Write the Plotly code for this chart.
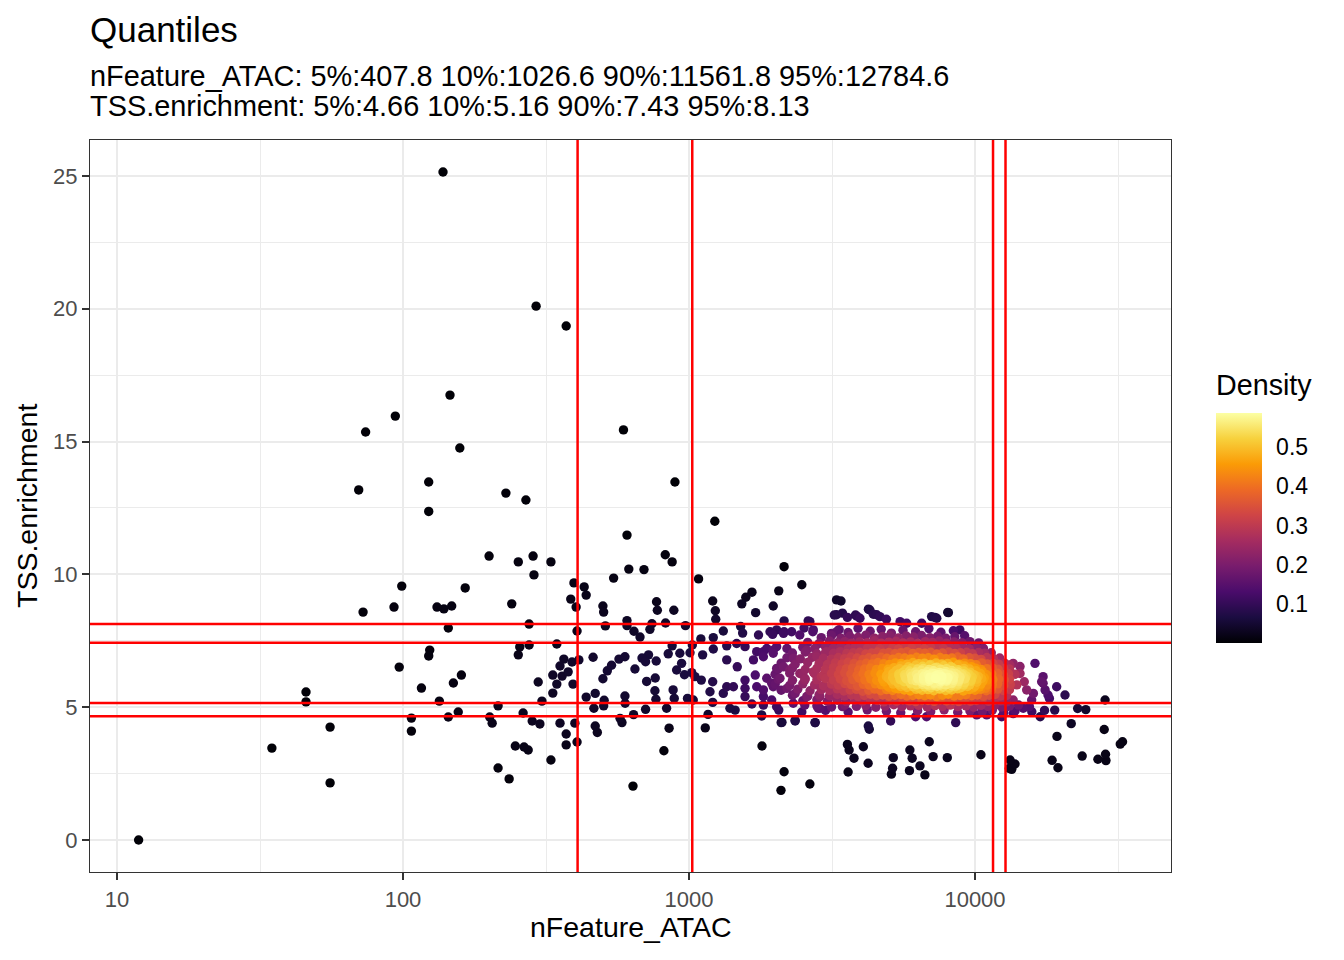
import numpy as np
import plotly.graph_objects as go

# ---------------- data ----------------
q_labels = ["5%", "10%", "90%", "95%"]
nfeature_q = [407.8, 1026.6, 11561.8, 12784.6]
tss_q = [4.66, 5.16, 7.43, 8.13]

x_tickvals = [10, 100, 1000, 10000]
x_ticktext = ["10", "100", "1000", "10000"]
y_tickvals = [0, 5, 10, 15, 20, 25]
density_ticks = [0.1, 0.2, 0.3, 0.4, 0.5]
density_max = 0.587

# low-count cells (left part)
nfeature_low = [138, 292, 372, 146, 94, 74, 158, 590, 70, 123, 123, 229, 269, 893, 1231,
                200, 253, 285, 329, 287, 99, 165, 72.5, 93, 131.5, 139, 148, 240, 144, 276,
                124, 123, 97, 256, 276, 253, 345, 396, 430, 437, 386, 403, 406, 365, 354,
                334, 360, 378, 390, 412, 345, 297, 393, 334, 306, 437, 160, 150, 116, 134,
                215, 263, 201, 205, 156, 144, 107, 107, 45.8, 45.8, 55.6, 34.8, 55.6, 11.9,
                283, 301, 354, 372, 399, 372, 406, 247, 265, 274, 329, 215, 235]
tss_low = [25.15, 20.1, 19.35, 16.75, 15.96, 15.36, 14.76, 15.44, 13.18, 13.48, 12.37, 13.06, 12.8, 13.48, 12.0,
           10.69, 10.47, 10.69, 10.47, 9.98, 9.56, 9.49, 8.58, 8.77, 8.77, 8.70, 8.81, 8.89, 7.98, 8.13,
           7.15, 6.93, 6.51, 7.27, 7.34, 6.97, 7.38, 9.68, 9.53, 9.22, 9.07, 8.77, 7.87, 6.81, 6.55,
           6.21, 6.17, 6.33, 6.70, 6.78, 5.87, 5.95, 5.87, 5.53, 5.23, 5.38, 6.21, 5.91, 5.72, 5.23,
           5.05, 4.78, 4.63, 4.40, 4.82, 4.63, 4.59, 4.10, 5.57, 5.20, 4.25, 3.46, 2.15, 0.0,
           4.48, 4.37, 4.40, 3.99, 4.40, 3.58, 3.69, 3.54, 3.50, 3.39, 3.01, 2.71, 2.30]

# middle cells (about 450 - 3300 features)
nfeature_mid = [607, 826, 873, 616, 696, 545, 1080, 2150, 2480, 2060, 1660, 1580, 1530, 1970, 1710,
                1210, 1236, 1240, 500, 503, 770, 775, 885, 3280, 3280,
                510, 607, 607, 642, 674, 730, 742, 828, 972, 1100, 1216, 1318, 1516, 1540, 1750,
                1960, 2150, 2150, 2610, 2525, 2710, 3280,
                462, 569, 597, 685, 722, 768, 846, 873, 929, 1008, 1027, 1116, 1216, 1355, 1468,
                1570, 1725, 1870, 2025,
                518, 500, 536, 647, 711, 762, 705, 905, 942, 964, 1049, 1104, 1022, 1210, 1355,
                1475, 1570, 1680, 1705, 1820, 1970, 1946, 2140,
                597, 598, 760, 766, 835, 880, 888, 988, 1035, 1184, 1210, 1318, 1430, 1390, 1450,
                1570, 1660, 1820, 1795, 1946, 2060, 2315, 2480, 2870,
                640, 705, 852, 1166, 1140, 574, 583, 470, 478, 465, 505, 503, 470, 817, 637,
                1800, 2150, 2097, 2646, 2114, 2350, 2760, 1355, 1570, 1725, 1870]
tss_mid = [11.48, 10.74, 10.47, 10.20, 10.18, 9.86, 9.83, 10.29, 9.61, 9.38, 9.33, 9.14, 8.89, 8.81, 8.56,
           9.0, 8.63, 8.31, 8.81, 8.58, 8.97, 8.65, 8.65, 9.04, 8.48,
           8.06, 8.26, 8.07, 7.86, 7.64, 7.93, 8.14, 8.17, 8.07, 7.57, 7.62, 7.87, 8.04, 7.79, 7.72,
           7.74, 8.25, 7.84, 8.25, 7.98, 7.84, 7.84,
           6.88, 6.81, 6.90, 6.85, 6.97, 6.74, 7.01, 7.31, 7.03, 7.05, 7.34, 6.97, 7.19, 7.31, 7.40,
           7.28, 7.09, 7.21, 7.28,
           6.37, 6.07, 6.58, 6.44, 5.97, 6.10, 6.71, 6.40, 6.65, 6.22, 6.15, 6.02, 6.30, 5.96, 6.78,
           6.52, 6.02, 6.78, 6.21, 6.90, 7.03, 5.90, 6.52,
           5.42, 5.15, 5.62, 5.30, 4.96, 5.65, 5.33, 5.33, 5.27, 5.58, 5.18, 5.52, 5.77, 4.96, 4.89,
           5.40, 5.12, 5.40, 4.67, 5.27, 4.89, 5.15, 4.82, 4.96,
           4.72, 4.92, 4.21, 4.73, 4.22, 4.58, 4.42, 4.29, 4.05, 4.96, 5.26, 5.05, 5.52, 3.36, 2.03,
           3.54, 2.57, 1.87, 2.11, 4.43, 4.51, 4.42, 5.77, 5.71, 5.77, 6.09]

# cells around the main population: below, above, left fringe and right tail
nfeature_edge = [3580, 3630, 3775, 4070, 4235, 4270, 4230, 3600, 5070, 5180, 5150, 5100, 5920, 6030, 5900,
                 6420, 6680, 6920, 7140, 8000, 6200, 6770, 8560,
                 10490, 13260, 13800, 13440, 13180, 18600, 19500, 23700, 26900, 28600, 28700, 32200, 32800,
                 16900, 19350, 21700, 28300, 28500, 19000, 22850, 24400,
                 3440, 3580, 3860, 4290, 4530, 4900, 5470, 7050, 7350, 8070, 2646,
                 3400, 3220, 3820, 3960, 4240, 4410, 4650, 5770, 6510, 7240, 8030, 8850,
                 1920, 2025, 2140, 2285, 2440, 2720, 3150,
                 1820, 1970, 2200, 2315, 2580, 2795, 3030,
                 2025, 2080, 2250, 2440, 2540, 2720, 2900,
                 1820, 1970, 2200, 2350, 2580, 2870, 3280,
                 1820, 2025, 2540, 2830, 3440, 1795, 2100, 2350, 2760,
                 13600, 14370, 16210, 17300, 17300, 19300, 20640, 15160, 16000, 18000,
                 17100, 17580, 18200, 14870, 13240, 14370,
                 14750, 13600, 15780, 12900, 10140, 10990, 12400]
tss_edge = [3.60, 3.39, 3.08, 3.51, 4.29, 4.17, 2.89, 2.56, 4.48, 3.10, 2.70, 2.48, 3.39, 3.08, 2.61,
            2.79, 2.45, 3.70, 3.14, 3.10, 4.64, 4.64, 4.42,
            3.21, 3.01, 2.86, 2.66, 2.69, 3.0, 2.72, 3.16, 3.04, 3.23, 2.99, 3.61, 3.70,
            4.64, 3.90, 4.38, 4.16, 5.27, 4.89, 4.95, 4.91,
            8.54, 8.38, 8.43, 8.66, 8.48, 8.31, 8.22, 8.41, 8.35, 8.56, 8.22,
            9.0, 8.47, 8.47, 8.35, 8.69, 8.50, 8.41, 8.16, 8.16, 8.38, 8.57, 7.91,
            7.84, 7.91, 7.78, 7.84, 7.72, 7.91, 7.78,
            7.09, 7.15, 7.21, 6.84, 7.15, 6.90, 7.09,
            6.46, 6.09, 6.40, 6.27, 6.02, 6.33, 6.15,
            5.65, 5.77, 5.71, 5.52, 5.40, 5.40, 5.33,
            5.08, 5.02, 5.08, 4.96, 5.02, 4.71, 4.42, 4.48, 4.42,
            6.65, 6.53, 6.65, 6.15, 5.90, 5.77, 5.46, 5.65, 5.52, 5.46,
            5.96, 5.65, 5.33, 5.96, 6.59, 6.27,
            4.96, 4.76, 5.27, 5.02, 4.71, 4.71, 4.64]

# main population (estimated, the dots overlap into a solid blob)
nfeature_main = [
    3350, 3600, 3900, 4300, 4700, 5100, 5600, 6200, 6900, 7600, 8400,
    2900, 3150, 3400, 3650, 3900, 4150, 4450, 4750, 5050, 5400, 5750, 6100, 6500, 6950, 7400, 7900, 8500, 9200,
    2600, 2850, 3100, 3300, 3500, 3700, 3950, 4200, 4450, 4700, 5000, 5300, 5600, 5950, 6300, 6700, 7100, 7500,
    7950, 8450, 9000, 9600, 10300,
    2500, 2750, 3000, 3200, 3400, 3600, 3800, 4000, 4200, 4420, 4650, 4900, 5150, 5400, 5700, 6000, 6300, 6650,
    7000, 7350, 7750, 8150, 8600, 9050, 9550, 10100, 10700,
    2300, 2550, 2800, 3000, 3200, 3380, 3560, 3750, 3950, 4150, 4350, 4560, 4780, 5000, 5250, 5500, 5780, 6060,
    6360, 6680, 7000, 7350, 7700, 8100, 8500, 8900, 9350, 9800, 10300, 10800, 11400,
    2200, 2450, 2700, 2950, 3150, 3330, 3500, 3680, 3870, 4060, 4260, 4470, 4690, 4920, 5160, 5410, 5680, 5960,
    6250, 6550, 6870, 7200, 7550, 7920, 8300, 8700, 9100, 9550, 10000, 10500, 11000, 11600, 12200,
    2100, 2350, 2600, 2850, 3050, 3250, 3430, 3600, 3780, 3970, 4170, 4370, 4580, 4800, 5030, 5270, 5520, 5790,
    6070, 6360, 6660, 6980, 7310, 7660, 8020, 8400, 8800, 9200, 9650, 10100, 10550, 11050, 11550, 12100, 12700,
    2050, 2300, 2550, 2800, 3000, 3200, 3380, 3550, 3730, 3920, 4110, 4310, 4520, 4740, 4970, 5210, 5460, 5720,
    6000, 6290, 6590, 6910, 7240, 7590, 7950, 8330, 8730, 9150, 9580, 10050, 10500, 11000, 11500, 12050, 12600, 13200,
    2000, 2250, 2500, 2750, 2950, 3150, 3330, 3500, 3680, 3870, 4060, 4260, 4470, 4690, 4920, 5160, 5410, 5670,
    5950, 6240, 6540, 6860, 7190, 7540, 7900, 8280, 8680, 9100, 9540, 10000, 10450, 10950, 11450, 12000, 12550,
    13100, 13800,
    2050, 2300, 2550, 2800, 3000, 3200, 3380, 3560, 3740, 3930, 4120, 4320, 4530, 4750, 4980, 5220, 5470, 5740,
    6020, 6310, 6610, 6930, 7270, 7620, 7990, 8380, 8780, 9200, 9650, 10100, 10550, 11050, 11550, 12100, 12650, 13200,
    2000, 2250, 2500, 2750, 2950, 3150, 3330, 3510, 3690, 3880, 4070, 4270, 4480, 4700, 4930, 5170, 5420, 5680,
    5960, 6250, 6550, 6870, 7200, 7550, 7920, 8300, 8700, 9130, 9570, 10000, 10500, 11000, 11500, 12000, 12600,
    13300, 14000,
    2100, 2400, 2650, 2900, 3100, 3300, 3480, 3660, 3850, 4050, 4250, 4460, 4680, 4910, 5150, 5400, 5660, 5940,
    6230, 6530, 6850, 7180, 7530, 7900, 8280, 8680, 9100, 9550, 10000, 10450, 10950, 11450, 12000, 12550, 13200,
    2300, 2600, 2850, 3100, 3300, 3500, 3700, 3900, 4100, 4310, 4530, 4760, 5000, 5250, 5510, 5780, 6060, 6360,
    6670, 6990, 7330, 7690, 8060, 8450, 8860, 9290, 9740, 10200, 10700, 11200, 11750, 12300, 12900,
    2500, 2800, 3050, 3300, 3550, 3800, 4050, 4300, 4550, 4800, 5050, 5320, 5600, 5900, 6200, 6520, 6850, 7200,
    7560, 7950, 8350, 8770, 9200, 9650, 10100, 10600, 11150, 11700, 12300, 12900, 13600,
    2800, 3150, 3500, 3850, 4150, 4500, 4850, 5200, 5550, 5950, 6350, 6800, 7250, 7700, 8200, 8700, 9300, 9900,
    10500, 11100, 11700, 12400, 13200, 14200, 15500,
    3000, 3600, 4200, 4900, 5500, 6300, 7000, 7800, 8700, 9600, 10600, 11500, 12600, 13800, 15800, 17500,
]
tss_main = [
    7.92, 7.81, 7.97, 7.86, 7.93, 7.79, 7.9, 7.84, 7.96, 7.82, 7.88,
    7.62, 7.7, 7.6, 7.67, 7.63, 7.71, 7.6, 7.66, 7.69, 7.61, 7.68, 7.64, 7.7, 7.62, 7.67, 7.6, 7.65, 7.69,
    7.44, 7.4, 7.49, 7.42, 7.47, 7.41, 7.46, 7.43, 7.5, 7.41, 7.45, 7.48, 7.42, 7.46, 7.4, 7.47, 7.44, 7.49,
    7.41, 7.46, 7.43, 7.47, 7.42,
    7.26, 7.21, 7.28, 7.23, 7.27, 7.2, 7.25, 7.29, 7.22, 7.26, 7.21, 7.27, 7.24, 7.2, 7.28, 7.23, 7.26, 7.21,
    7.25, 7.29, 7.22, 7.27, 7.23, 7.26, 7.2, 7.25, 7.22,
    7.04, 7.08, 7.01, 7.06, 7.03, 7.09, 7.02, 7.05, 7.07, 7.0, 7.04, 7.08, 7.03, 7.06, 7.01, 7.05, 7.09, 7.02,
    7.06, 7.03, 7.07, 7.0, 7.04, 7.08, 7.02, 7.05, 7.07, 7.01, 7.06, 7.03, 7.05,
    6.86, 6.82, 6.88, 6.84, 6.81, 6.87, 6.83, 6.89, 6.85, 6.8, 6.86, 6.83, 6.88, 6.84, 6.81, 6.87, 6.85, 6.82,
    6.88, 6.84, 6.86, 6.81, 6.87, 6.83, 6.85, 6.89, 6.82, 6.86, 6.84, 6.8, 6.87, 6.83, 6.85,
    6.66, 6.62, 6.68, 6.64, 6.61, 6.67, 6.63, 6.69, 6.65, 6.6, 6.66, 6.63, 6.68, 6.64, 6.61, 6.67, 6.65, 6.62,
    6.68, 6.64, 6.66, 6.61, 6.67, 6.63, 6.65, 6.69, 6.62, 6.66, 6.64, 6.6, 6.67, 6.63, 6.65, 6.62, 6.66,
    6.44, 6.48, 6.42, 6.46, 6.43, 6.49, 6.41, 6.45, 6.47, 6.4, 6.44, 6.48, 6.42, 6.46, 6.43, 6.49, 6.45, 6.41,
    6.47, 6.44, 6.46, 6.42, 6.48, 6.43, 6.45, 6.49, 6.41, 6.46, 6.44, 6.47, 6.42, 6.45, 6.48, 6.43, 6.46, 6.44,
    6.24, 6.28, 6.22, 6.26, 6.21, 6.27, 6.23, 6.29, 6.25, 6.2, 6.26, 6.23, 6.28, 6.24, 6.21, 6.27, 6.25, 6.22,
    6.28, 6.24, 6.26, 6.21, 6.27, 6.23, 6.25, 6.29, 6.22, 6.26, 6.24, 6.2, 6.27, 6.23, 6.25, 6.28, 6.22,
    6.26, 6.24,
    6.05, 6.01, 6.07, 6.03, 6.08, 6.02, 6.06, 6.0, 6.04, 6.09, 6.03, 6.06, 6.01, 6.05, 6.08, 6.02, 6.04, 6.07,
    6.03, 6.06, 6.0, 6.05, 6.09, 6.02, 6.04, 6.07, 6.03, 6.06, 6.01, 6.05, 6.08, 6.02, 6.04, 6.06, 6.03, 6.05,
    5.86, 5.82, 5.88, 5.84, 5.81, 5.87, 5.83, 5.89, 5.85, 5.8, 5.86, 5.83, 5.88, 5.84, 5.81, 5.87, 5.85, 5.82,
    5.88, 5.84, 5.86, 5.81, 5.87, 5.83, 5.85, 5.89, 5.82, 5.86, 5.84, 5.8, 5.87, 5.83, 5.85, 5.88, 5.82,
    5.86, 5.84,
    5.64, 5.68, 5.62, 5.66, 5.63, 5.69, 5.61, 5.65, 5.67, 5.6, 5.64, 5.68, 5.62, 5.66, 5.63, 5.69, 5.65, 5.61,
    5.67, 5.64, 5.66, 5.62, 5.68, 5.63, 5.65, 5.69, 5.61, 5.66, 5.64, 5.67, 5.62, 5.65, 5.68, 5.63, 5.66,
    5.45, 5.41, 5.47, 5.43, 5.48, 5.42, 5.46, 5.4, 5.44, 5.49, 5.43, 5.46, 5.41, 5.45, 5.48, 5.42, 5.44, 5.47,
    5.43, 5.46, 5.4, 5.45, 5.49, 5.42, 5.44, 5.47, 5.43, 5.46, 5.41, 5.45, 5.48, 5.42, 5.44,
    5.24, 5.28, 5.22, 5.26, 5.21, 5.27, 5.23, 5.29, 5.25, 5.2, 5.26, 5.23, 5.28, 5.24, 5.21, 5.27, 5.25, 5.22,
    5.28, 5.24, 5.26, 5.21, 5.27, 5.23, 5.25, 5.29, 5.22, 5.26, 5.24, 5.2, 5.27,
    5.05, 5.01, 5.08, 5.03, 5.06, 5.0, 5.04, 5.09, 5.02, 5.05, 5.07, 5.01, 5.06, 5.03, 5.08, 5.02, 5.05, 5.0,
    5.07, 5.03, 5.06, 5.01, 5.04, 5.08, 5.02,
    4.88, 4.82, 4.9, 4.85, 4.79, 4.87, 4.83, 4.9, 4.81, 4.86, 4.84, 4.89, 4.8, 4.86, 4.83, 4.88,
]

# densest core of the main population
nfeature_core = [
    5000, 5250, 5500, 5780, 6070, 6370, 6690, 7020, 7370, 7740, 8130, 8530, 8960, 9410, 9880, 10370, 10890, 11430,
    4800, 5100, 5380, 5650, 5930, 6230, 6540, 6870, 7210, 7570, 7950, 8350, 8770, 9210, 9670, 10150, 10660, 11200,
    4900, 5150, 5420, 5700, 6000, 6300, 6620, 6950, 7300, 7660, 8050, 8450, 8870, 9310, 9780, 10270, 10780, 11320,
    5000, 5300, 5600, 5900, 6200, 6500, 6820, 7160, 7520, 7900, 8300, 8710, 9150, 9610, 10090, 10600,
    5500, 5850, 6200, 6560, 6940, 7350, 7780, 8230, 8700, 9200, 9720,
    6600, 6950, 7300, 7650, 8000, 8400, 8800, 9250, 9700, 10150,
    6700, 7050, 7400, 7780, 8150, 8550, 8980, 9420, 9880,
    6800, 7150, 7500, 7880, 8280, 8700, 9130, 9580,
]
tss_core = [
    5.75, 5.72, 5.78, 5.74, 5.77, 5.71, 5.76, 5.73, 5.79, 5.75, 5.72, 5.77, 5.74, 5.78, 5.73, 5.76, 5.71, 5.75,
    5.95, 5.98, 5.92, 5.96, 5.93, 5.99, 5.94, 5.97, 5.91, 5.95, 5.98, 5.93, 5.96, 5.92, 5.97, 5.94, 5.99, 5.95,
    6.15, 6.12, 6.18, 6.14, 6.17, 6.11, 6.16, 6.13, 6.19, 6.15, 6.12, 6.17, 6.14, 6.18, 6.13, 6.16, 6.11, 6.15,
    6.35, 6.38, 6.32, 6.36, 6.33, 6.39, 6.34, 6.37, 6.31, 6.35, 6.38, 6.33, 6.36, 6.32, 6.37, 6.34,
    6.55, 6.52, 6.58, 6.54, 6.57, 6.51, 6.56, 6.53, 6.59, 6.55, 6.52,
    6.06, 6.02, 6.08, 6.04, 6.07, 6.01, 6.05, 6.09, 6.03, 6.06,
    6.24, 6.28, 6.22, 6.26, 6.21, 6.27, 6.23, 6.25, 6.22,
    5.86, 5.82, 5.88, 5.84, 5.81, 5.87, 5.83, 5.85,
]

# ---------------- density (2D kernel estimate on log10 x) ----------------
nf = np.array(nfeature_low + nfeature_mid + nfeature_edge + nfeature_main + nfeature_core, float)
ts = np.array(tss_low + tss_mid + tss_edge + tss_main + tss_core, float)
lx = np.log10(nf)
hx, hy = 0.15, 0.55
dx = (lx[:, None] - lx[None, :]) / hx
dy = (ts[:, None] - ts[None, :]) / hy
dens = np.exp(-0.5 * (dx * dx + dy * dy)).sum(axis=1)
dens = dens / dens.max() * density_max
order = np.argsort(dens)

inferno = ['#000004', '#1b0c41', '#4a0c6b', '#781c6d', '#a52c60',
           '#cf4446', '#ed6925', '#fb9b06', '#f7d13d', '#fcffa4']

# ---------------- figure ----------------
W, H = 1344, 960
L, R, T, B = 90, 1171, 140, 872
pw, ph = R - L, B - T
CB_LEFT, CB_W, CB_TOP, CB_BOT = 1216, 46, 413, 643


def px_x(p):
    return (p - L) / pw


def px_y(p):
    return (B - p) / ph


fig = go.Figure()
fig.add_trace(go.Scatter(
    x=nf[order], y=ts[order], mode="markers",
    marker=dict(
        size=9.4, color=dens[order], colorscale=inferno, cmin=0, cmax=density_max,
        line=dict(width=0),
        colorbar=dict(
            x=px_x(CB_LEFT), xanchor="left", xpad=0,
            y=px_y((CB_TOP + CB_BOT) / 2), yanchor="middle", ypad=0,
            thickness=CB_W, thicknessmode="pixels",
            len=CB_BOT - CB_TOP, lenmode="pixels",
            outlinewidth=0,
            tickvals=density_ticks, ticktext=[str(v) for v in density_ticks],
            ticks="outside", ticklen=10, tickwidth=1, tickcolor="white",
            tickfont=dict(family="Liberation Sans", size=23, color="black"),
        ),
    ),
    showlegend=False, hoverinfo="skip",
))

for v in nfeature_q:
    fig.add_vline(x=v, line_color="#FF0000", line_width=2.5)
for v in tss_q:
    fig.add_hline(y=v, line_color="#FF0000", line_width=2.5)

# white tick marks drawn on both edges of the colour bar (ggplot style)
for t in density_ticks:
    ty = px_y(CB_BOT - t / density_max * (CB_BOT - CB_TOP))
    for x0, x1 in [(CB_LEFT, CB_LEFT + 9), (CB_LEFT + CB_W - 9, CB_LEFT + CB_W)]:
        fig.add_shape(type="line", xref="paper", yref="paper", x0=px_x(x0), x1=px_x(x1),
                      y0=ty, y1=ty, line=dict(color="white", width=1.5))

axis_common = dict(
    showline=True, mirror=True, linecolor="#333333", linewidth=1.3,
    ticks="outside", ticklen=7, tickwidth=1.7, tickcolor="#333333",
    tickfont=dict(family="Liberation Sans", size=22, color="#4D4D4D"),
    showgrid=True, gridcolor="#EBEBEB", gridwidth=2, zeroline=False,
)
x_lo = np.log10(x_tickvals[0]) - 27 / 286
x_hi = np.log10(x_tickvals[-1]) + 196 / 286
fig.update_xaxes(type="log", range=[x_lo, x_hi], tickmode="array",
                 tickvals=x_tickvals, ticktext=x_ticktext,
                 minor=dict(tickmode="array",
                            tickvals=[np.sqrt(x_tickvals[i] * x_tickvals[i + 1]) for i in range(len(x_tickvals) - 1)]
                            + [np.sqrt(10) * x_tickvals[-1]],
                            showgrid=True, gridcolor="#EBEBEB", gridwidth=1, ticks=""),
                 **axis_common)
fig.update_yaxes(range=[-1.205, 26.355], tickmode="array", tickvals=y_tickvals,
                 minor=dict(tickmode="array", tickvals=[t + 2.5 for t in y_tickvals[:-1]],
                            showgrid=True, gridcolor="#EBEBEB", gridwidth=1, ticks=""),
                 **axis_common)

sub1 = "nFeature_ATAC: " + " ".join(f"{l}:{v}" for l, v in zip(q_labels, nfeature_q))
sub2 = "TSS.enrichment: " + " ".join(f"{l}:{v}" for l, v in zip(q_labels, tss_q))
font_family = "Liberation Sans"
ann = [
    dict(text="Quantiles", x=px_x(88), y=px_y(29), font=dict(size=35)),
    dict(text=sub1, x=px_x(88), y=px_y(76), font=dict(size=28.9)),
    dict(text=sub2, x=px_x(88), y=px_y(106.5), font=dict(size=28.9)),
    dict(text="Density", x=px_x(1214), y=px_y(385), font=dict(size=28.7)),
]
annotations = []
for a in ann:
    annotations.append(dict(text=a["text"], x=a["x"], y=a["y"], xref="paper", yref="paper",
                            xanchor="left", yanchor="middle", showarrow=False,
                            font=dict(family=font_family, size=a["font"]["size"], color="black")))
annotations.append(dict(text="nFeature_ATAC", x=0.5, y=px_y(927), xref="paper", yref="paper",
                        xanchor="center", yanchor="middle", showarrow=False,
                        font=dict(family=font_family, size=28.5, color="black")))
annotations.append(dict(text="TSS.enrichment", x=px_x(27), y=0.5, xref="paper", yref="paper",
                        xanchor="center", yanchor="middle", textangle=-90, showarrow=False,
                        font=dict(family=font_family, size=28.5, color="black")))

fig.update_layout(
    width=W, height=H, autosize=False,
    margin=dict(l=L, r=W - R, t=T, b=H - B, pad=0),
    paper_bgcolor="white", plot_bgcolor="white",
    annotations=annotations,
    font=dict(family=font_family),
)
fig.write_html("out.html", config={"displayModeBar": False},
               post_script="document.body.style.margin='0';")
